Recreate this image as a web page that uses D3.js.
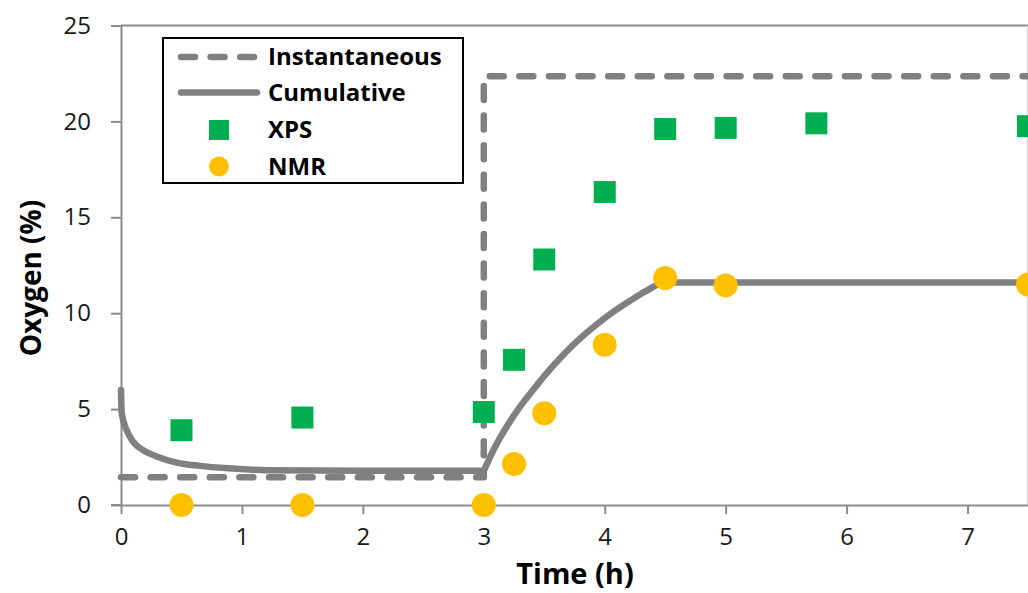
<!DOCTYPE html>
<html>
<head>
<meta charset="utf-8">
<script src="https://cdn.jsdelivr.net/npm/d3@7"></script>
<style>
  html, body { margin: 0; padding: 0; background: #fff; }
  svg { display: block; }
  text { font-family: "Open Sans", "Noto Sans", sans-serif; }
</style>
</head>
<body>
<svg id="chart" width="1028" height="593"></svg>
<script>
// ---- Data ----
const instTime = [0, 3, 3, 7.5];
const instValue = [1.45, 1.45, 22.35, 22.35];

const cumTime = [0, 0.006, 0.047, 0.1, 0.18, 0.3, 0.46, 0.65, 0.93, 1.2, 2, 3,
                 3.08, 3.19, 3.3, 3.41, 3.52, 3.66, 3.79, 3.93, 4.07, 4.21, 4.34, 4.5, 7.5];
const cumValue = [6.0, 4.78, 3.9, 3.3, 2.87, 2.52, 2.21, 2.04, 1.9, 1.81, 1.78, 1.78,
                  2.87, 4.09, 5.13, 6.02, 6.88, 7.85, 8.65, 9.4, 10.07, 10.65, 11.15, 11.6, 11.6];

const xpsTime = [0.5, 1.5, 3, 3.25, 3.5, 4, 4.5, 5, 5.75, 7.5];
const xpsValue = [3.9, 4.56, 4.85, 7.57, 12.8, 16.32, 19.6, 19.66, 19.9, 19.75];

const nmrTime = [0.5, 1.5, 3, 3.25, 3.5, 4, 4.5, 5, 7.5];
const nmrValue = [0, 0, 0, 2.14, 4.78, 8.35, 11.83, 11.45, 11.5];

const xTicks = [0, 1, 2, 3, 4, 5, 6, 7];
const yTicks = [0, 5, 10, 15, 20, 25];
const legendLabels = ["Instantaneous", "Cumulative", "XPS", "NMR"];

// ---- Setup ----
const svg = d3.select("#chart");
const x = d3.scaleLinear().domain([0, 7.5]).range([121, 1028]);
const y = d3.scaleLinear().domain([0, 25]).range([505, 25.5]);

const gray = "#808080";
const axisGray = "#8c8c8c";
const green = "#00B050";
const orange = "#FFC000";

// plot frame (top + right)
svg.append("line").attr("x1", x(0)).attr("x2", 1028).attr("y1", y(25)).attr("y2", y(25))
  .attr("stroke", axisGray).attr("stroke-width", 2);
svg.append("line").attr("x1", 1027.3).attr("x2", 1027.3).attr("y1", y(25)).attr("y2", y(0))
  .attr("stroke", "#d0d0d0").attr("stroke-width", 1);

// axes
const yAxis = svg.append("g").attr("transform", `translate(${x(0)},0)`)
  .call(d3.axisLeft(y).tickValues(yTicks).tickSize(10).tickSizeOuter(0).tickPadding(20));
const xAxis = svg.append("g").attr("transform", `translate(0,${y(0)})`)
  .call(d3.axisBottom(x).tickValues(xTicks).tickSize(9).tickSizeOuter(0).tickPadding(14));

[xAxis, yAxis].forEach(g => {
  g.select(".domain").attr("stroke", axisGray).attr("stroke-width", 2);
  g.selectAll(".tick line").attr("stroke", axisGray).attr("stroke-width", 2);
  g.selectAll(".tick text").attr("fill", "#1a1a1a")
    .style("font-size", "24px").style("font-family", "'Open Sans', sans-serif");
});
// extend x-axis domain left to meet y tick
svg.append("line").attr("x1", x(0) - 10).attr("x2", x(0)).attr("y1", y(0)).attr("y2", y(0))
  .attr("stroke", axisGray).attr("stroke-width", 2);

// axis titles
svg.append("text").attr("x", 575).attr("y", 584).attr("text-anchor", "middle")
  .style("font-size", "29px").style("font-weight", "bold").attr("fill", "#000")
  .text("Time (h)");
svg.append("text").attr("transform", "translate(41,278) rotate(-90)").attr("text-anchor", "middle")
  .style("font-size", "28px").style("font-weight", "bold").attr("fill", "#000")
  .text("Oxygen (%)");

// lines
const lineLin = d3.line().x(d => x(d[0])).y(d => y(d[1]));
const lineSmooth = d3.line().x(d => x(d[0])).y(d => y(d[1])).curve(d3.curveMonotoneX);
const instData = instTime.map((t, i) => [t, instValue[i]]);
const cumData = cumTime.map((t, i) => [t, cumValue[i]]);
const breakIdx = cumTime.indexOf(3);
const cumA = cumData.slice(0, breakIdx + 1);
const cumB = cumData.slice(breakIdx);

svg.append("path").datum(instData).attr("d", lineLin)
  .attr("fill", "none").attr("stroke", gray).attr("stroke-width", 6.5)
  .attr("stroke-linecap", "round").attr("stroke-linejoin", "round")
  .attr("stroke-dasharray", "14,15.6");

svg.append("path").attr("d", lineSmooth(cumA) + lineSmooth(cumB).replace(/^M/, "L"))
  .attr("fill", "none").attr("stroke", gray).attr("stroke-width", 6.5)
  .attr("stroke-linecap", "round").attr("stroke-linejoin", "round");

// markers
const sq = 22;
svg.append("g").selectAll("rect").data(xpsTime.map((t, i) => [t, xpsValue[i]])).join("rect")
  .attr("x", d => x(d[0]) - sq / 2).attr("y", d => y(d[1]) - sq / 2)
  .attr("width", sq).attr("height", sq).attr("fill", green);

svg.append("g").selectAll("circle").data(nmrTime.map((t, i) => [t, nmrValue[i]])).join("circle")
  .attr("cx", d => x(d[0])).attr("cy", d => y(d[1])).attr("r", 12).attr("fill", orange);

// legend
const lg = svg.append("g");
lg.append("rect").attr("x", 163).attr("y", 38).attr("width", 300).attr("height", 145)
  .attr("fill", "#fff").attr("stroke", "#000").attr("stroke-width", 2);
const rowsY = [57, 92.5, 130, 166.5];
lg.append("line").attr("x1", 181).attr("x2", 254).attr("y1", rowsY[0]).attr("y2", rowsY[0])
  .attr("stroke", gray).attr("stroke-width", 6.5).attr("stroke-linecap", "round")
  .attr("stroke-dasharray", "14,15.6");
lg.append("line").attr("x1", 181).attr("x2", 257).attr("y1", rowsY[1]).attr("y2", rowsY[1])
  .attr("stroke", gray).attr("stroke-width", 6.5).attr("stroke-linecap", "round");
lg.append("rect").attr("x", 219 - 10).attr("y", rowsY[2] - 10).attr("width", 20).attr("height", 20)
  .attr("fill", green);
lg.append("circle").attr("cx", 219).attr("cy", rowsY[3]).attr("r", 10).attr("fill", orange);
lg.selectAll("text.lbl").data(legendLabels).join("text").attr("class", "lbl")
  .attr("x", 268).attr("y", (d, i) => rowsY[i]).attr("dy", "0.35em")
  .style("font-size", "24px").style("font-weight", "bold").attr("fill", "#000")
  .text(d => d);
</script>
</body>
</html>
